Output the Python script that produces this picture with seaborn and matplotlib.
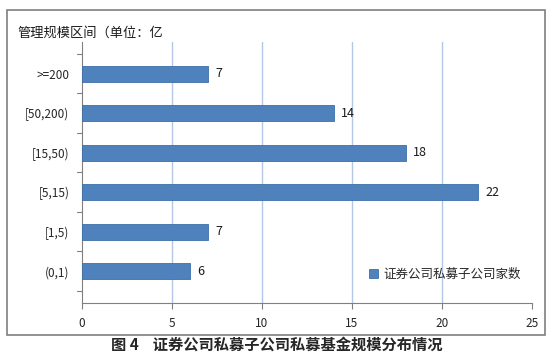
import matplotlib
matplotlib.use("Agg")
import matplotlib.pyplot as plt
import matplotlib.patches as mpatches
import pandas as pd
import seaborn as sns

# data
categories = [">=200", "[50,200)", "[15,50)", "[5,15)", "[1,5)", "(0,1)"]
counts = [7, 14, 18, 22, 7, 6]
series_name = "证券公司私募子公司家数"
x_ticks = [0, 5, 10, 15, 20, 25]

sns.set_style("white")
plt.rcParams['font.family'] = ['Noto Sans CJK SC', 'DejaVu Sans']

df = pd.DataFrame({'range': categories, 'count': counts, 'series': series_name})

fig = plt.figure(figsize=(5.54, 3.53), dpi=100)
ax = fig.add_axes([0.148, 0.142, 0.812, 0.739])

# outer frame like the excel chart area
frame = mpatches.Rectangle((7 / 554, 1 - 335 / 353), 538 / 554, 325 / 353,
                           transform=fig.transFigure, fill=False,
                           edgecolor='#7f7f7f', linewidth=1.2, zorder=0)
fig.patches.append(frame)

bar_color = '#4F81BD'
sns.barplot(data=df, x='count', y='range', hue='series', orient='h',
            palette=[bar_color], saturation=1, width=0.41, ax=ax,
            edgecolor='#3d6ea8', linewidth=0.6, zorder=3)

# value labels
for p in ax.patches:
    w = p.get_width()
    if p.get_height() == 0:
        continue
    ax.text(w + 0.4, p.get_y() + p.get_height() / 2, '{:.0f}'.format(w),
            ha='left', va='center', fontsize=9, color='#1a1a1a')

ax.set_xlim(0, 25)
ax.set_xticks(x_ticks)
ax.set_xticklabels([str(t) for t in x_ticks], fontsize=8.5)
ax.tick_params(axis='y', labelsize=8.5, length=0, pad=9)
ax.tick_params(axis='x', length=4, width=0.8, direction='out',
               color='#808080', bottom=True, pad=6)
ax.set_xlabel('')
ax.set_ylabel('')

# vertical grid lines
for t in x_ticks[1:-1]:
    ax.axvline(t, color='#b4c7e7', linewidth=1, zorder=1)

for s in ['top', 'right']:
    ax.spines[s].set_visible(False)
ax.spines['left'].set_color('#808080')
ax.spines['bottom'].set_color('#808080')

# small tick marks between categories on the y axis
for i in range(len(categories) + 1):
    ax.plot([-0.25, 0], [i - 0.5, i - 0.5], color='#808080', linewidth=0.8,
            clip_on=False, zorder=4)

ax.legend(loc='lower right', bbox_to_anchor=(1.0, 0.04), frameon=False,
          fontsize=9, handlelength=0.7, handleheight=0.7, handletextpad=0.4)

fig.text(17 / 554, 1 - 33 / 353, '管理规模区间（单位：亿', fontsize=9.5,
         ha='left', va='center', color='#1a1a1a')
fig.text(0.5, 1 - 345 / 353, '图 4    证券公司私募子公司私募基金规模分布情况',
         fontsize=11, fontweight='bold', ha='center', va='center')

fig.savefig('out.png', dpi=100)
